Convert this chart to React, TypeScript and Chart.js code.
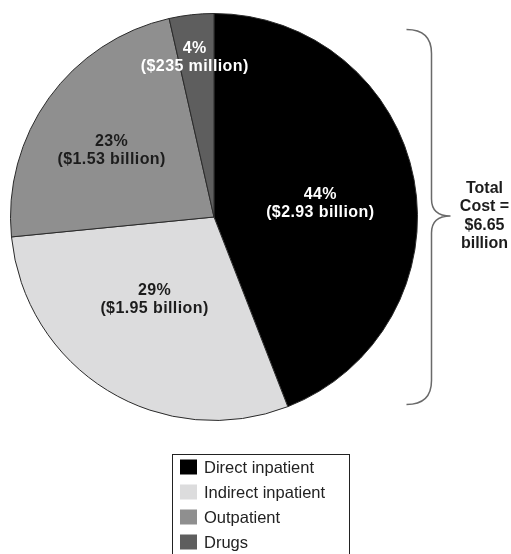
import React, { useEffect, useRef } from "react";
import { Chart, registerables } from "chart.js";

Chart.register(...registerables);

const categories = ["Direct inpatient", "Indirect inpatient", "Outpatient", "Drugs"];
const costs = [2.93, 1.95, 1.53, 0.235]; // billions of dollars
const percentLabels = ["44%", "29%", "23%", "4%"];
const amountLabels = ["($2.93 billion)", "($1.95 billion)", "($1.53 billion)", "($235 million)"];
const totalLabel = ["Total", "Cost =", "$6.65", "billion"];

const sliceColors = ["#000000", "#dcdcdd", "#8f8f8f", "#5e5e5e"];
const labelColors = ["#ffffff", "#1c1c1c", "#1c1c1c", "#ffffff"];
const labelAngleFrac = [0.523, 0.54, 0.466, 0.46];
const labelRadiusFrac = [0.526, 0.5, 0.6, 0.79];

const FONT = "'Liberation Sans', Arial, Helvetica, sans-serif";

const overlayPlugin = {
  id: "overlay",
  afterDraw(chart: any) {
    const ctx: CanvasRenderingContext2D = chart.ctx;
    const arcs = chart.getDatasetMeta(0).data;
    if (!arcs.length) return;
    const first = arcs[0].getProps(["x", "y", "outerRadius"], true);
    const cx = first.x;
    const cy = first.y;
    const R = first.outerRadius;

    ctx.save();
    // slice labels
    ctx.textAlign = "center";
    ctx.textBaseline = "middle";
    ctx.font = `bold 16px ${FONT}`;
    (ctx as any).letterSpacing = "0.4px";
    arcs.forEach((arc: any, i: number) => {
      const p = arc.getProps(["x", "y", "startAngle", "endAngle", "outerRadius"], true);
      const a = p.startAngle + (p.endAngle - p.startAngle) * labelAngleFrac[i];
      const r = p.outerRadius * labelRadiusFrac[i];
      const x = p.x + Math.cos(a) * r;
      const y = p.y + Math.sin(a) * r;
      ctx.fillStyle = labelColors[i];
      ctx.fillText(percentLabels[i], x, y - 9);
      ctx.fillText(amountLabels[i], x, y + 9);
    });
    (ctx as any).letterSpacing = "0px";

    // brace
    const bx = cx + R + 14;
    const top = cy - R + 16;
    const bottom = cy + R - 16;
    const mid = cy - 1;
    const endX = bx - 25;
    const tipX = bx + 19;
    ctx.strokeStyle = "#6a6a6a";
    ctx.lineWidth = 1.5;
    ctx.beginPath();
    ctx.moveTo(endX, top);
    ctx.quadraticCurveTo(bx, top, bx, top + 24);
    ctx.lineTo(bx, mid - 17);
    ctx.quadraticCurveTo(bx, mid, tipX, mid);
    ctx.quadraticCurveTo(bx, mid, bx, mid + 17);
    ctx.lineTo(bx, bottom - 24);
    ctx.quadraticCurveTo(bx, bottom, endX, bottom);
    ctx.stroke();

    // total text
    ctx.fillStyle = "#1c1c1c";
    ctx.font = `bold 16px ${FONT}`;
    const tx = tipX + 34;
    totalLabel.forEach((t, i) => {
      ctx.fillText(t, tx, mid + (i - 1.5) * 18.5);
    });

    // legend
    const lx = 172.5;
    const ly = 454.5;
    const lw = 177;
    ctx.strokeStyle = "#222222";
    ctx.lineWidth = 1;
    ctx.strokeRect(lx, ly, lw, 120);
    ctx.textAlign = "left";
    ctx.font = `16.5px ${FONT}`;
    categories.forEach((c, i) => {
      const rowY = ly + 12.5 + i * 25;
      ctx.fillStyle = sliceColors[i];
      ctx.fillRect(lx + 7.5, rowY - 7.5, 17, 15);
      ctx.fillStyle = "#222222";
      ctx.fillText(c, lx + 31.5, rowY + 1);
    });
    ctx.restore();
  },
};

export default function App() {
  const canvasRef = useRef<HTMLCanvasElement | null>(null);

  useEffect(() => {
    if (!canvasRef.current) return;
    const chart = new Chart(canvasRef.current, {
      type: "pie",
      data: {
        labels: categories,
        datasets: [
          {
            data: costs,
            backgroundColor: sliceColors,
            borderColor: "#2a2a2a",
            borderWidth: 1,
          },
        ],
      },
      options: {
        responsive: false,
        animation: false,
        events: [],
        layout: { padding: { left: 10, top: 13, right: 93, bottom: 133 } },
        plugins: {
          legend: { display: false },
          tooltip: { enabled: false },
        },
      },
      plugins: [overlayPlugin],
    });
    return () => chart.destroy();
  }, []);

  return (
    <div style={{ position: "absolute", left: 0, top: 0, width: 511, height: 554, background: "#ffffff" }}>
      <canvas ref={canvasRef} width={511} height={554} style={{ width: 511, height: 554, display: "block" }} />
    </div>
  );
}
